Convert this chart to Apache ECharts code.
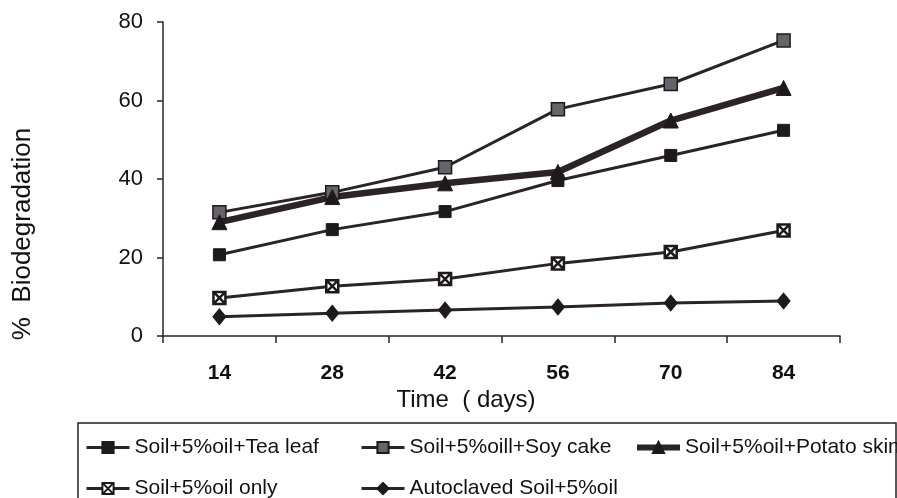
<!DOCTYPE html>
<html>
<head>
<meta charset="utf-8">
<script src="https://cdn.jsdelivr.net/npm/echarts@6/dist/echarts.min.js"></script>
<style>
html,body{margin:0;padding:0;background:#fff;}
#chart{width:897px;height:498px;}
</style>
</head>
<body>
<div id="chart"></div>
<script>
var days = ['14', '28', '42', '56', '70', '84'];
var teaLeaf = [20.7, 27.1, 31.7, 39.6, 46.0, 52.4];
var soyCake = [31.5, 36.6, 43.0, 57.8, 64.2, 75.3];
var potatoSkin = [29.0, 35.4, 38.9, 41.8, 54.9, 63.2];
var soilOnly = [9.7, 12.7, 14.5, 18.5, 21.4, 26.9];
var autoclaved = [4.9, 5.8, 6.6, 7.4, 8.4, 8.9];
var seriesNames = ['Soil+5%oil+Tea leaf', 'Soil+5%oill+Soy cake', 'Soil+5%oil+Potato skin', 'Soil+5%oil only', 'Autoclaved Soil+5%oil'];
var yTicks = [0, 20, 40, 60, 80];

var INK = '#2b2326';
var FONT = '"Liberation Sans", Arial, sans-serif';
var xSquare = 'path://M0,0 L10,0 L10,10 L0,10 Z M0,0 L10,10 M10,0 L0,10';

var chart = echarts.init(document.getElementById('chart'), null, {renderer: 'canvas'});

function mkLegend(name, left, top, lw) {
  return {
    data: [name],
    left: left,
    top: top,
    orient: 'horizontal',
    itemWidth: 43,
    itemHeight: 14,
    itemGap: 0,
    padding: 0,
    selectedMode: false,
    lineStyle: {width: lw},
    textStyle: {fontFamily: FONT, fontSize: 21, color: '#111', padding: [0, 0, 0, 0]}
  };
}

var option = {
  backgroundColor: '#ffffff',
  animation: false,
  grid: {left: 163, right: 57, top: 22, bottom: 162, containLabel: false},
  legend: [
    mkLegend(seriesNames[0], 85, 437, 3),
    mkLegend(seriesNames[1], 360, 437, 3),
    mkLegend(seriesNames[2], 634, 437, 6),
    mkLegend(seriesNames[3], 85, 478, 3),
    mkLegend(seriesNames[4], 360, 478, 3)
  ],
  xAxis: {
    type: 'category',
    data: days,
    boundaryGap: true,
    axisLine: {show: true, lineStyle: {color: INK, width: 1.5}},
    axisTick: {show: true, length: 7, alignWithLabel: false, lineStyle: {color: INK, width: 1.5}},
    axisLabel: {margin: 27, fontFamily: FONT, fontSize: 21, fontWeight: 'bold', color: '#111'},
    splitLine: {show: false}
  },
  yAxis: {
    type: 'value',
    min: 0,
    max: 80,
    interval: 20,
    axisLine: {show: true, lineStyle: {color: INK, width: 1.5}},
    axisTick: {show: true, length: 6, lineStyle: {color: INK, width: 1.5}},
    axisLabel: {margin: 20, fontFamily: FONT, fontSize: 22, color: '#111',
      formatter: function (v) { return yTicks.indexOf(v) >= 0 ? String(v) : ''; }},
    splitLine: {show: false}
  },
  graphic: [
    {type: 'rect', shape: {x: 78, y: 423, width: 818, height: 120}, style: {fill: 'none', stroke: '#222', lineWidth: 1.5}, silent: true},
    {type: 'text', x: 466, y: 400, style: {text: 'Time  ( days)', font: '24px ' + FONT, fill: '#111', align: 'center', verticalAlign: 'middle'}},
    {type: 'text', x: 23, y: 234, rotation: Math.PI / 2, style: {text: '%  Biodegradation', font: '26px ' + FONT, fill: '#111', align: 'center', verticalAlign: 'middle'}}
  ],
  series: [
    {
      name: seriesNames[0], type: 'line', data: teaLeaf,
      symbol: 'rect', symbolSize: 12,
      lineStyle: {color: INK, width: 3},
      itemStyle: {color: '#1e1a1c', borderColor: '#1e1a1c', borderWidth: 1}
    },
    {
      name: seriesNames[1], type: 'line', data: soyCake,
      symbol: 'rect', symbolSize: 13,
      lineStyle: {color: INK, width: 3},
      itemStyle: {color: '#66636b', borderColor: '#1e1a1c', borderWidth: 1.5}
    },
    {
      name: seriesNames[2], type: 'line', data: potatoSkin,
      symbol: 'triangle', symbolSize: 15,
      lineStyle: {color: INK, width: 6.5},
      itemStyle: {color: '#1e1a1c', borderColor: '#1e1a1c', borderWidth: 1}
    },
    {
      name: seriesNames[3], type: 'line', data: soilOnly,
      symbol: xSquare, symbolSize: 12,
      lineStyle: {color: INK, width: 3},
      itemStyle: {color: '#ffffff', borderColor: '#1e1a1c', borderWidth: 2.5}
    },
    {
      name: seriesNames[4], type: 'line', data: autoclaved,
      symbol: 'diamond', symbolSize: [13, 16],
      lineStyle: {color: INK, width: 3},
      itemStyle: {color: '#1e1a1c', borderColor: '#1e1a1c', borderWidth: 1}
    }
  ]
};
chart.setOption(option);
</script>
</body>
</html>
